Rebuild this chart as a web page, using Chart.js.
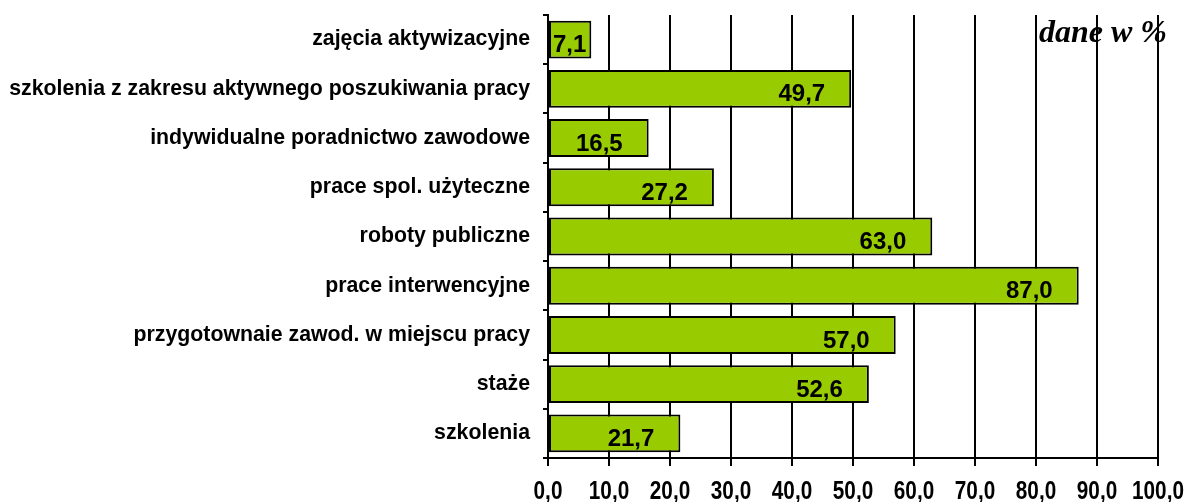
<!DOCTYPE html>
<html>
<head>
<meta charset="utf-8">
<script src="https://cdn.jsdelivr.net/npm/chart.js@4"></script>
<style>
  html, body { margin: 0; padding: 0; background: #fff; }
  #wrap { width: 1187px; height: 502px; position: relative; }
</style>
</head>
<body>
<div id="wrap"><canvas id="c" width="1187" height="502"></canvas></div>
<script>
// categories top to bottom
const categories = [
  'zajęcia aktywizacyjne',
  'szkolenia z zakresu aktywnego poszukiwania pracy',
  'indywidualne poradnictwo zawodowe',
  'prace spol. użyteczne',
  'roboty publiczne',
  'prace interwencyjne',
  'przygotownaie zawod. w miejscu pracy',
  'staże',
  'szkolenia'
];
const values = [7.1, 49.7, 16.5, 27.2, 63.0, 87.0, 57.0, 52.6, 21.7];
const xMin = 0, xMax = 100, xStep = 10;
const unitNote = 'dane w %';

const fmt = v => v.toFixed(1).replace('.', ',');

// value labels inside the bars, condensed x tick labels, unit note
const barLabels = {
  id: 'barLabels',
  afterDatasetsDraw(chart) {
    const ctx = chart.ctx;
    const meta = chart.getDatasetMeta(0);
    ctx.save();
    ctx.font = 'bold 24px "Liberation Sans", Arial, sans-serif';
    ctx.fillStyle = '#000';
    ctx.textBaseline = 'middle';
    meta.data.forEach((bar, i) => {
      const txt = fmt(values[i]);
      const w = ctx.measureText(txt).width;
      const x = Math.max(bar.base + 4, bar.x - 26 - w);
      ctx.fillText(txt, x, bar.y + 6);
    });
    ctx.restore();
  },
  afterDraw(chart) {
    const ctx = chart.ctx;
    const xs = chart.scales.x;
    ctx.save();
    ctx.font = 'bold 25px "Liberation Sans", Arial, sans-serif';
    ctx.fillStyle = '#000';
    ctx.textAlign = 'center';
    ctx.textBaseline = 'middle';
    xs.ticks.forEach(t => {
      const px = xs.getPixelForValue(t.value);
      ctx.save();
      ctx.translate(px, xs.bottom - 10);
      ctx.scale(0.83, 1);
      ctx.fillText(fmt(t.value), 0, 0);
      ctx.restore();
    });
    ctx.restore();

    ctx.save();
    ctx.font = 'italic bold 32px "Liberation Serif", "Times New Roman", serif';
    ctx.fillStyle = '#000';
    ctx.textBaseline = 'alphabetic';
    ctx.fillText(unitNote, 1039, 42);
    ctx.restore();
  }
};

new Chart(document.getElementById('c'), {
  type: 'bar',
  data: {
    labels: categories,
    datasets: [{
      data: values,
      backgroundColor: '#99cc00',
      borderColor: '#000',
      borderWidth: 2,
      borderSkipped: false,
      barPercentage: 0.77,
      categoryPercentage: 1
    }]
  },
  options: {
    indexAxis: 'y',
    responsive: false,
    animation: false,
    layout: { padding: { top: 15, right: 29, left: 0, bottom: 0 } },
    plugins: { legend: { display: false }, tooltip: { enabled: false } },
    scales: {
      x: {
        min: xMin, max: xMax,
        ticks: {
          stepSize: xStep,
          display: false,
          autoSkip: false,
          maxRotation: 0,
          minRotation: 0
        },
        grid: { color: '#000', lineWidth: 2, tickLength: 8 },
        border: { color: '#000', width: 2 },
        afterFit(s) { s.height = 44; s.paddingLeft = 0; s.paddingRight = 0; }
      },
      y: {
        ticks: {
          color: '#000',
          padding: 13,
          autoSkip: false,
          font: { family: '"Liberation Sans", Arial, sans-serif', size: 21.3, weight: 'bold' }
        },
        grid: { drawOnChartArea: false, color: '#000', lineWidth: 2, tickLength: 5, offset: true },
        border: { color: '#000', width: 2 },
        afterFit(s) { s.width = 548; s.paddingTop = 0; s.paddingBottom = 0; }
      }
    }
  },
  plugins: [barLabels]
});
</script>
</body>
</html>
